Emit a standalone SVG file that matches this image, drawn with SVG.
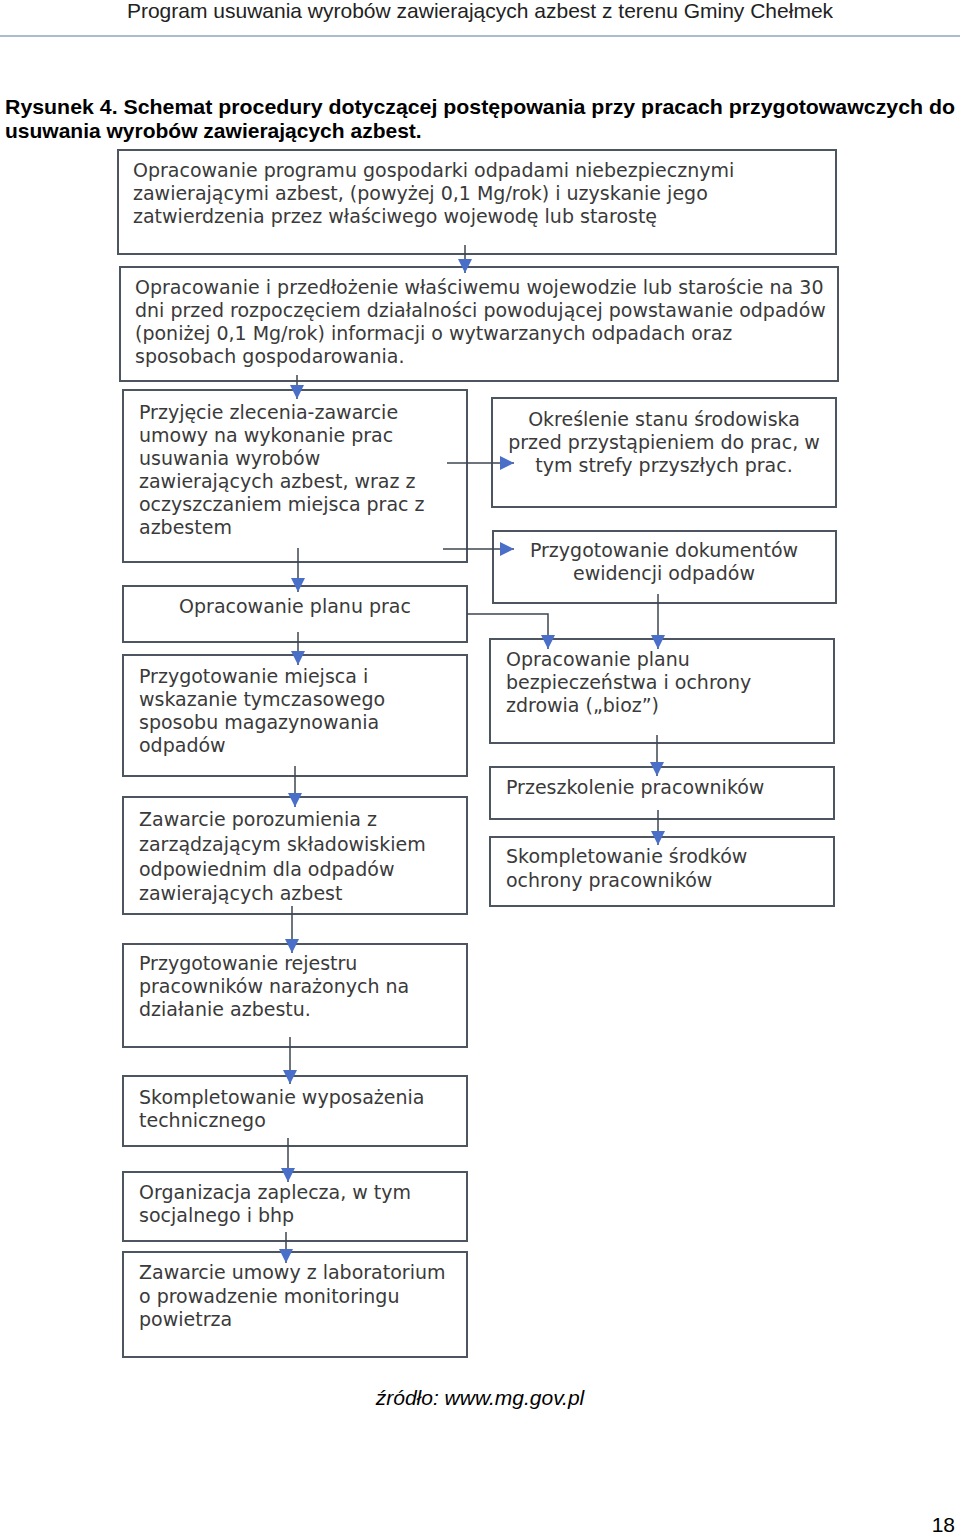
<svg xmlns="http://www.w3.org/2000/svg" width="960" height="1535" viewBox="0 0 960 1535">
<defs>
<style>
.box{fill:#ffffff;stroke:#4d5660;stroke-width:2}
.t{font-family:"DejaVu Sans",Verdana,sans-serif;font-size:19px;fill:#3a3a3a}
.tc{font-family:"DejaVu Sans",Verdana,sans-serif;font-size:19px;fill:#3a3a3a;text-anchor:middle}
.hdr{font-family:"Liberation Sans",Arial,sans-serif;font-size:21px;fill:#222}
.ttl{font-family:"Liberation Sans",Arial,sans-serif;font-size:21px;font-weight:bold;fill:#000}
.con{fill:none;stroke:#3c4650;stroke-width:1.5}
</style>
<marker id="ah" markerUnits="userSpaceOnUse" markerWidth="14" markerHeight="14" viewBox="0 0 12 12" refX="12" refY="6" orient="auto">
<path d="M0,0 L12,6 L0,12 Z" fill="#4a6fc9"/>
</marker>
</defs>
<rect width="960" height="1535" fill="#ffffff"/>
<g id="header">
<text class="hdr" x="480" y="18" text-anchor="middle">Program usuwania wyrobów zawierających azbest z terenu Gminy Chełmek</text>
<line x1="0" y1="36" x2="960" y2="36" stroke="#8fa6bd" stroke-width="1.5"/>
<text class="ttl" x="5" y="114" textLength="950" lengthAdjust="spacingAndGlyphs">Rysunek 4. Schemat procedury dotyczącej postępowania przy pracach przygotowawczych do</text>
<text class="ttl" x="5" y="138">usuwania wyrobów zawierających azbest.</text>
</g>
<g id="n1"><rect class="box" x="118" y="150" width="718" height="104"/>
<text class="t" x="133" y="177">Opracowanie programu gospodarki odpadami niebezpiecznymi</text>
<text class="t" x="133" y="200">zawierającymi azbest, (powyżej 0,1 Mg/rok) i uzyskanie jego</text>
<text class="t" x="133" y="223">zatwierdzenia przez właściwego wojewodę lub starostę</text></g>
<g id="n2"><rect class="box" x="120" y="267" width="718" height="114"/>
<text class="t" x="135" y="294">Opracowanie i przedłożenie właściwemu wojewodzie lub staroście na 30</text>
<text class="t" x="135" y="317">dni przed rozpoczęciem działalności powodującej powstawanie odpadów</text>
<text class="t" x="135" y="340">(poniżej 0,1 Mg/rok) informacji o wytwarzanych odpadach oraz</text>
<text class="t" x="135" y="363">sposobach gospodarowania.</text></g>
<g id="n3"><rect class="box" x="123" y="390" width="344" height="172"/>
<text class="t" x="139" y="419">Przyjęcie zlecenia-zawarcie</text>
<text class="t" x="139" y="442">umowy na wykonanie prac</text>
<text class="t" x="139" y="465">usuwania wyrobów</text>
<text class="t" x="139" y="488">zawierających azbest, wraz z</text>
<text class="t" x="139" y="511">oczyszczaniem miejsca prac z</text>
<text class="t" x="139" y="534">azbestem</text></g>
<g id="n4"><rect class="box" x="492" y="398" width="344" height="109"/>
<text class="tc" x="664" y="426">Określenie stanu środowiska</text>
<text class="tc" x="664" y="449">przed przystąpieniem do prac, w</text>
<text class="tc" x="664" y="472">tym strefy przyszłych prac.</text></g>
<g id="n5"><rect class="box" x="493" y="531" width="343" height="72"/>
<text class="tc" x="664" y="557">Przygotowanie dokumentów</text>
<text class="tc" x="664" y="580">ewidencji odpadów</text></g>
<g id="n6"><rect class="box" x="123" y="586" width="344" height="56"/>
<text class="tc" x="295" y="613">Opracowanie planu prac</text></g>
<g id="n7"><rect class="box" x="490" y="639" width="344" height="104"/>
<text class="t" x="506" y="666">Opracowanie planu</text>
<text class="t" x="506" y="689">bezpieczeństwa i ochrony</text>
<text class="t" x="506" y="712">zdrowia („bioz”)</text></g>
<g id="n8"><rect class="box" x="123" y="655" width="344" height="121"/>
<text class="t" x="139" y="683">Przygotowanie miejsca i</text>
<text class="t" x="139" y="706">wskazanie tymczasowego</text>
<text class="t" x="139" y="729">sposobu magazynowania</text>
<text class="t" x="139" y="752">odpadów</text></g>
<g id="n9"><rect class="box" x="490" y="767" width="344" height="52"/>
<text class="t" x="506" y="794">Przeszkolenie pracowników</text></g>
<g id="n10"><rect class="box" x="490" y="837" width="344" height="69"/>
<text class="t" x="506" y="863">Skompletowanie środków</text>
<text class="t" x="506" y="887">ochrony pracowników</text></g>
<g id="n11"><rect class="box" x="123" y="797" width="344" height="117"/>
<text class="t" x="139" y="826">Zawarcie porozumienia z</text>
<text class="t" x="139" y="851">zarządzającym składowiskiem</text>
<text class="t" x="139" y="876">odpowiednim dla odpadów</text>
<text class="t" x="139" y="900">zawierających azbest</text></g>
<g id="n12"><rect class="box" x="123" y="944" width="344" height="103"/>
<text class="t" x="139" y="970">Przygotowanie rejestru</text>
<text class="t" x="139" y="993">pracowników narażonych na</text>
<text class="t" x="139" y="1016">działanie azbestu.</text></g>
<g id="n13"><rect class="box" x="123" y="1076" width="344" height="70"/>
<text class="t" x="139" y="1104">Skompletowanie wyposażenia</text>
<text class="t" x="139" y="1127">technicznego</text></g>
<g id="n14"><rect class="box" x="123" y="1172" width="344" height="69"/>
<text class="t" x="139" y="1199">Organizacja zaplecza, w tym</text>
<text class="t" x="139" y="1222">socjalnego i bhp</text></g>
<g id="n15"><rect class="box" x="123" y="1252" width="344" height="105"/>
<text class="t" x="139" y="1279">Zawarcie umowy z laboratorium</text>
<text class="t" x="139" y="1303">o prowadzenie monitoringu</text>
<text class="t" x="139" y="1326">powietrza</text></g>
<g id="connectors">
<line class="con" x1="465" y1="245" x2="465" y2="273" marker-end="url(#ah)"/>
<line class="con" x1="297" y1="375" x2="297" y2="399" marker-end="url(#ah)"/>
<line class="con" x1="447" y1="463" x2="514" y2="463" marker-end="url(#ah)"/>
<line class="con" x1="443" y1="549" x2="514" y2="549" marker-end="url(#ah)"/>
<line class="con" x1="298" y1="548" x2="298" y2="592" marker-end="url(#ah)"/>
<polyline class="con" points="467,614 548,614 548,649" marker-end="url(#ah)"/>
<line class="con" x1="658" y1="594" x2="658" y2="649" marker-end="url(#ah)"/>
<line class="con" x1="298" y1="632" x2="298" y2="665" marker-end="url(#ah)"/>
<line class="con" x1="657" y1="735" x2="657" y2="776" marker-end="url(#ah)"/>
<line class="con" x1="658" y1="810" x2="658" y2="845" marker-end="url(#ah)"/>
<line class="con" x1="295" y1="766" x2="295" y2="807" marker-end="url(#ah)"/>
<line class="con" x1="292" y1="906" x2="292" y2="953" marker-end="url(#ah)"/>
<line class="con" x1="290" y1="1037" x2="290" y2="1084" marker-end="url(#ah)"/>
<line class="con" x1="288" y1="1138" x2="288" y2="1182" marker-end="url(#ah)"/>
<line class="con" x1="286" y1="1232" x2="286" y2="1263" marker-end="url(#ah)"/>
</g>
<g id="footer">
<text x="480" y="1405" text-anchor="middle" font-family="Liberation Sans, Arial, sans-serif" font-size="21" font-style="italic" fill="#000">źródło: www.mg.gov.pl</text>
<text x="955" y="1532" text-anchor="end" font-family="Liberation Sans, Arial, sans-serif" font-size="21" fill="#000">18</text>
</g>
</svg>
